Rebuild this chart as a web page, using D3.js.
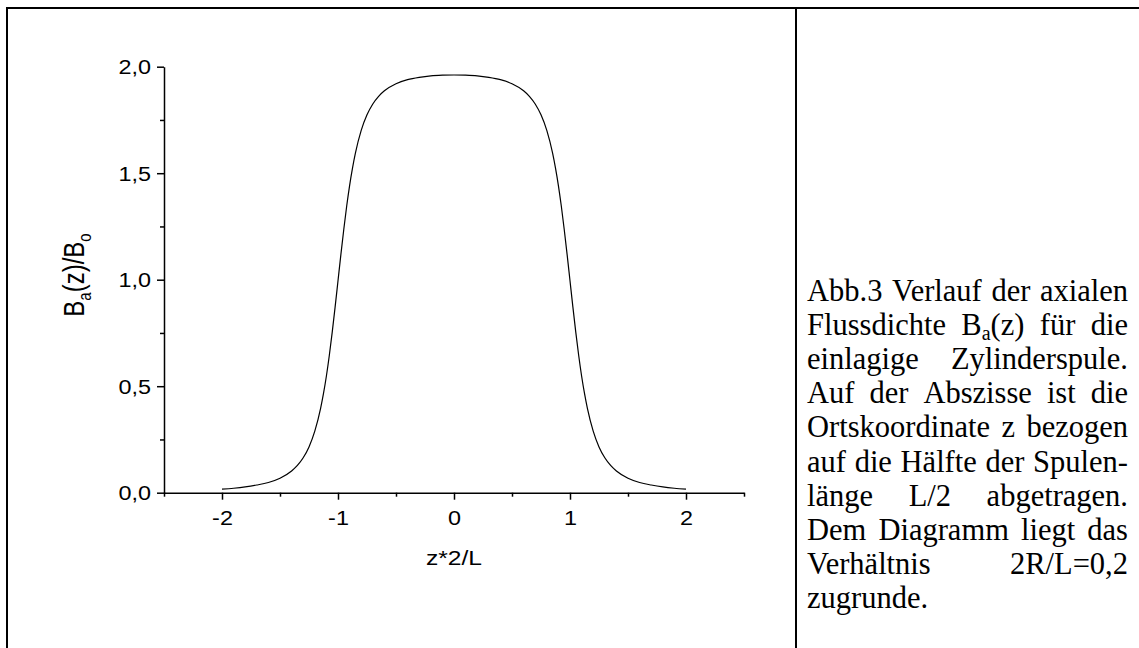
<!DOCTYPE html>
<html>
<head>
<meta charset="utf-8">
<script src="https://cdn.jsdelivr.net/npm/d3@7"></script>
<style>
  body { margin: 0; background: #fff; }
  svg { display: block; }
</style>
</head>
<body>
<div id="chart"></div>
<script>
// axial flux density of the single-layer coil
const zValues = [-2, -1.9, -1.8, -1.7, -1.6, -1.5, -1.4, -1.35, -1.3, -1.25, -1.2, -1.15, -1.125, -1.1, -1.075, -1.05, -1.025,
  -1, -0.975, -0.95, -0.925, -0.9, -0.875, -0.85, -0.8, -0.75, -0.7, -0.65, -0.6, -0.5, -0.4, -0.3, -0.2, -0.1,
  0, 0.1, 0.2, 0.3, 0.4, 0.5, 0.6, 0.65, 0.7, 0.75, 0.8, 0.85, 0.875, 0.9, 0.925, 0.95, 0.975,
  1, 1.025, 1.05, 1.075, 1.1, 1.125, 1.15, 1.2, 1.25, 1.3, 1.35, 1.4, 1.5, 1.6, 1.7, 1.8, 1.9, 2];
const bValues = [0.017, 0.021, 0.027, 0.036, 0.048, 0.068, 0.102, 0.128, 0.164, 0.215, 0.289, 0.396, 0.466, 0.548, 0.644, 0.753, 0.871,
  0.995, 1.119, 1.237, 1.346, 1.442, 1.524, 1.594, 1.701, 1.774, 1.825, 1.861, 1.887, 1.920, 1.939, 1.950, 1.957, 1.960,
  1.961, 1.960, 1.957, 1.950, 1.939, 1.920, 1.887, 1.861, 1.825, 1.774, 1.701, 1.594, 1.524, 1.442, 1.346, 1.237, 1.119,
  0.995, 0.871, 0.753, 0.644, 0.548, 0.466, 0.396, 0.289, 0.215, 0.164, 0.128, 0.102, 0.068, 0.048, 0.036, 0.027, 0.021, 0.017];

const yTicks = [0, 0.5, 1, 1.5, 2];
const yMinorTicks = [0.25, 0.75, 1.25, 1.75];
const xTicks = [-2, -1, 0, 1, 2];
const xMinorTicks = [-2.5, -1.5, -0.5, 0.5, 1.5, 2.5];

// caption, one entry per printed line ("_a" = subscript)
const captionLines = [
  "Abb.3 Verlauf der axialen",
  "Flussdichte B_a(z) für die",
  "einlagige Zylinderspule.",
  "Auf der Abszisse ist die",
  "Ortskoordinate z bezogen",
  "auf die Hälfte der Spulen-",
  "länge L/2 abgetragen.",
  "Dem Diagramm liegt das",
  "Verhältnis 2R/L=0,2",
  "zugrunde."
];

const width = 1139, height = 648;
const svg = d3.select("#chart").append("svg")
  .attr("width", width)
  .attr("height", height);

// frame of the table cell
const frame = svg.append("g").attr("stroke", "#000").attr("stroke-width", 2);
frame.append("line").attr("x1", 6).attr("x2", width).attr("y1", 8).attr("y2", 8);
frame.append("line").attr("x1", 7).attr("x2", 7).attr("y1", 8).attr("y2", height);
frame.append("line").attr("x1", 796).attr("x2", 796).attr("y1", 8).attr("y2", height);

const x = d3.scaleLinear().domain([-2.5, 2.5]).range([164, 744]);
const y = d3.scaleLinear().domain([0, 2]).range([492.7, 66.7]);

const de = d3.formatLocale({ decimal: ",", thousands: ".", grouping: [3], currency: ["", ""], minus: "-" });
const fmtY = de.format(".1f");
const fmtX = de.format("d");

const sansFont = "'Liberation Sans', Arial, sans-serif";
const stretch = 1.2;

// x axis
const xAxisG = svg.append("g").attr("transform", `translate(0,${y(0)})`)
  .call(d3.axisBottom(x).tickValues(xTicks).tickSize(7).tickSizeOuter(0).tickFormat(fmtX));
svg.append("g").attr("transform", `translate(0,${y(0)})`)
  .call(d3.axisBottom(x).tickValues(xMinorTicks).tickSize(4).tickSizeOuter(0).tickFormat(""))
  .select(".domain").remove();

// y axis
const yAxisG = svg.append("g").attr("transform", `translate(${x(-2.5)},0)`)
  .call(d3.axisLeft(y).tickValues(yTicks).tickSize(7).tickSizeOuter(0).tickFormat(fmtY));
svg.append("g").attr("transform", `translate(${x(-2.5)},0)`)
  .call(d3.axisLeft(y).tickValues(yMinorTicks).tickSize(4).tickSizeOuter(0).tickFormat(""))
  .select(".domain").remove();

svg.selectAll(".domain, .tick line").attr("stroke", "#000").attr("stroke-width", 1.5);

xAxisG.selectAll(".tick text")
  .attr("font-family", sansFont).attr("font-size", 19.5).attr("fill", "#000")
  .attr("y", 0).attr("dy", null)
  .attr("transform", `translate(0,32) scale(${stretch},1)`);
yAxisG.selectAll(".tick text")
  .attr("font-family", sansFont).attr("font-size", 19.5).attr("fill", "#000")
  .attr("x", 0).attr("dy", "0.35em")
  .attr("transform", `translate(-13,0) scale(${stretch},1)`);

// axis titles
svg.append("text")
  .attr("transform", `translate(${x(0)},565) scale(${stretch},1)`)
  .attr("text-anchor", "middle")
  .attr("font-family", sansFont).attr("font-size", 20.5)
  .text("z*2/L");

const yTitle = svg.append("text")
  .attr("transform", `translate(84,275) scale(${stretch},1) rotate(-90)`)
  .attr("text-anchor", "middle")
  .attr("font-family", sansFont).attr("font-size", 24);
yTitle.append("tspan").text("B");
yTitle.append("tspan").attr("font-size", 15).attr("dy", 6).text("a");
yTitle.append("tspan").attr("dy", -6).text("(z)/B");
yTitle.append("tspan").attr("font-size", 15).attr("dy", 6).text("o");

// curve
const points = zValues.map((z, i) => [z, bValues[i]]);
svg.append("path")
  .datum(points)
  .attr("fill", "none")
  .attr("stroke", "#000")
  .attr("stroke-width", 1.2)
  .attr("d", d3.line().x(d => x(d[0])).y(d => y(d[1])).curve(d3.curveMonotoneX));

// justified caption
const capLeft = 807, capRight = 1128, capTop = 301, capStep = 34.1;
const serifFont = "'Liberation Serif', 'Times New Roman', serif";

captionLines.forEach((line, li) => {
  const g = svg.append("g").attr("font-family", serifFont).attr("font-size", 30.5);
  const words = line.split(" ");
  const texts = words.map(w => {
    const t = g.append("text").attr("y", capTop + li * capStep);
    const parts = w.split("_");
    if (parts.length === 1) {
      t.text(w);
    } else {
      t.append("tspan").text(parts[0]);
      t.append("tspan").attr("font-size", 20).attr("dy", 5).text(parts[1][0]);
      t.append("tspan").attr("dy", -5).text(parts[1].slice(1));
    }
    return t;
  });
  const widths = texts.map(t => t.node().getComputedTextLength());
  const total = d3.sum(widths);
  const last = li === captionLines.length - 1;
  const gap = (last || words.length < 2) ? 7.6 : (capRight - capLeft - total) / (words.length - 1);
  let cx = capLeft;
  texts.forEach((t, i) => {
    t.attr("x", cx);
    cx += widths[i] + gap;
  });
});
</script>
</body>
</html>
